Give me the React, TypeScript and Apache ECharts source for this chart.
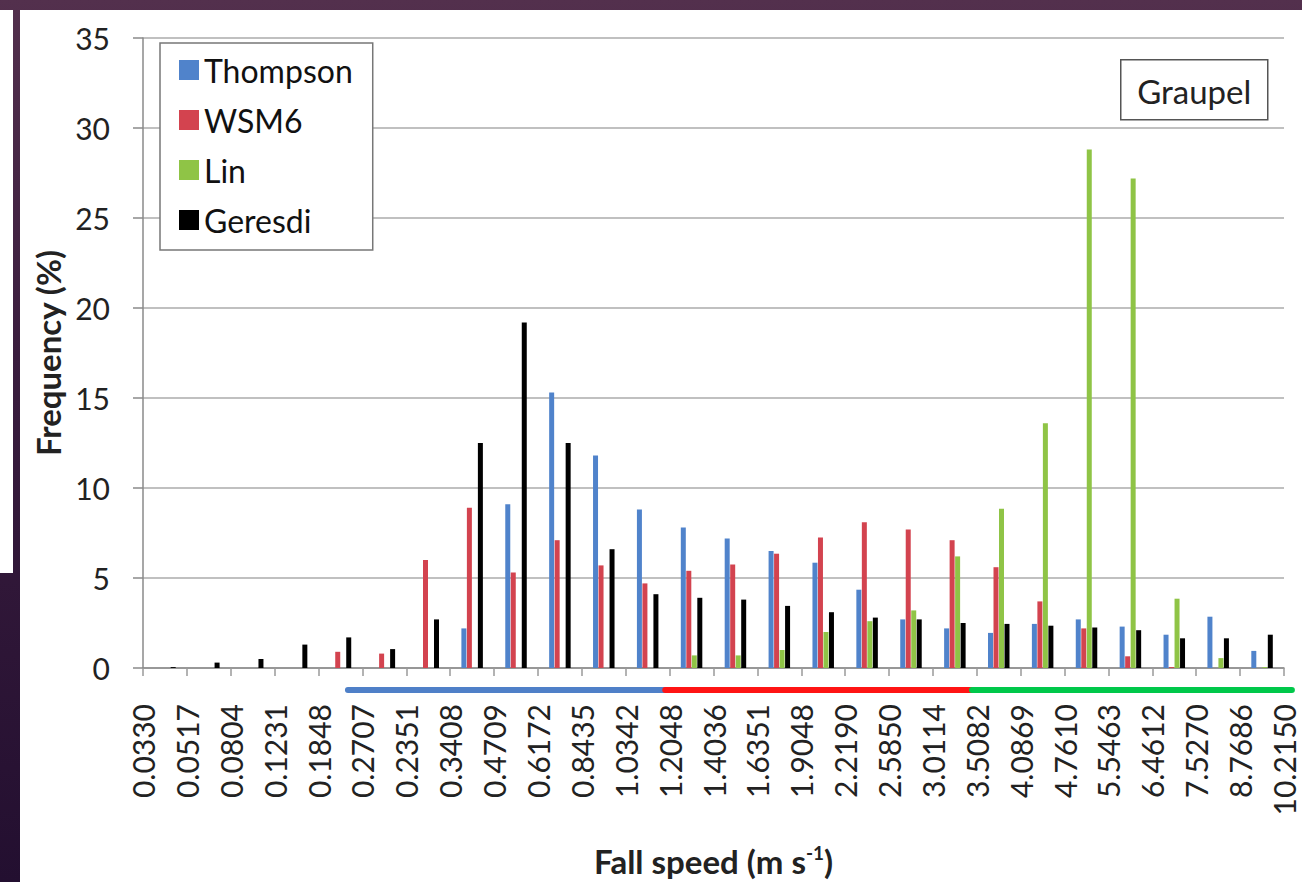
import React, { useEffect, useRef } from "react";
import * as echarts from "echarts";

// Bin boundary labels (fall speed, m/s) shown on the x axis ticks
const boundaryLabels = [
  "0.0330", "0.0517", "0.0804", "0.1231", "0.1848", "0.2707", "0.2351",
  "0.3408", "0.4709", "0.6172", "0.8435", "1.0342", "1.2048", "1.4036",
  "1.6351", "1.9048", "2.2190", "2.5850", "3.0114", "3.5082", "4.0869",
  "4.7610", "5.5463", "6.4612", "7.5270", "8.7686", "10.2150",
];

// 26 bins between consecutive boundaries
const binCategories = boundaryLabels.slice(0, -1).map((b, i) => `${b}-${boundaryLabels[i + 1]}`);

const thompson = [0, 0, 0, 0, 0, 0, 0, 2.2, 9.1, 15.3, 11.8, 8.8, 7.8, 7.2, 6.5, 5.85, 4.35, 2.7, 2.2, 1.95, 2.45, 2.7, 2.3, 1.85, 2.85, 0.95];
const wsm6 = [0, 0, 0, 0, 0.9, 0.8, 6.0, 8.9, 5.3, 7.1, 5.7, 4.7, 5.4, 5.75, 6.35, 7.25, 8.1, 7.7, 7.1, 5.6, 3.7, 2.2, 0.65, 0.05, 0, 0];
const lin = [0, 0, 0, 0, 0, 0, 0, 0, 0, 0, 0, 0, 0.7, 0.7, 1.0, 2.0, 2.6, 3.2, 6.2, 8.85, 13.6, 28.8, 27.2, 3.85, 0.55, 0.05];
const geresdi = [0.05, 0.3, 0.5, 1.3, 1.7, 1.05, 2.7, 12.5, 19.2, 12.5, 6.6, 4.1, 3.9, 3.8, 3.45, 3.1, 2.8, 2.7, 2.5, 2.45, 2.35, 2.25, 2.1, 1.65, 1.65, 1.85];

const seriesNames = ["Thompson", "WSM6", "Lin", "Geresdi"];
const seriesColors = ["#5083CB", "#D3434F", "#8FC446", "#000000"];

// Coloured regime strips under the axis (from/to in boundary-index units)
const strips = [
  { from: 4.67, to: 11.9, color: "#4F80C8" },
  { from: 11.9, to: 18.89, color: "#FF1414" },
  { from: 18.89, to: 26.18, color: "#00C84A" },
];

const FONT = "Lato";

export default function App() {
  const ref = useRef<HTMLDivElement>(null);

  useEffect(() => {
    if (!ref.current) return;
    const chart = echarts.init(ref.current, undefined, { renderer: "svg" });
    const data = [thompson, wsm6, lin, geresdi];

    const option: any = {
      animation: false,
      backgroundColor: "transparent",
      textStyle: { fontFamily: FONT },
      grid: { left: 143, right: 18, top: 38, bottom: 214, containLabel: false, outerBoundsMode: "none" },
      legend: {
        orient: "vertical",
        left: 160,
        top: 43,
        icon: "rect",
        itemWidth: 20,
        itemHeight: 20,
        itemGap: 18,
        itemTextGap: 11,
        padding: [11, 20, 14, 19],
        borderColor: "#777",
        borderWidth: 1.5,
        backgroundColor: "#fff",
        textStyle: { fontFamily: FONT, fontSize: 32, color: "#111", lineHeight: 32 },
        data: seriesNames,
      },
      xAxis: [
        {
          type: "category",
          data: binCategories,
          boundaryGap: true,
          axisLine: { show: true, lineStyle: { color: "#8a8a8a", width: 1.5 } },
          axisTick: { show: false },
          axisLabel: { show: false },
          splitLine: { show: false },
        },
        {
          type: "category",
          data: boundaryLabels,
          boundaryGap: false,
          position: "bottom",
          axisLine: { show: false },
          axisTick: { show: true, length: 8, lineStyle: { color: "#9a9a9a", width: 1.5 } },
          axisLabel: {
            interval: 0,
            rotate: 90,
            margin: 36,
            fontFamily: FONT,
            fontSize: 30,
            color: "#222",
          },
          splitLine: { show: false },
          name: "Fall speed (m s{sup|-1})",
          nameLocation: "middle",
          nameGap: 175,
          nameTextStyle: {
            fontFamily: FONT,
            fontSize: 33,
            fontWeight: "bold",
            color: "#222",
            rich: {
              sup: { fontFamily: FONT, fontSize: 19, fontWeight: "bold", color: "#222", padding: [0, 0, 16, 0] },
            },
          },
        },
      ],
      yAxis: {
        type: "value",
        min: 0,
        max: 35,
        interval: 5,
        axisLine: { show: true, lineStyle: { color: "#8a8a8a", width: 1.5 } },
        axisTick: { show: true, length: 10, lineStyle: { color: "#8a8a8a", width: 1.5 } },
        axisLabel: { fontFamily: FONT, fontSize: 30, color: "#222", margin: 33 },
        splitLine: { show: true, lineStyle: { color: "#ababab", width: 1.5 } },
        name: "Frequency (%)",
        nameLocation: "middle",
        nameRotate: 90,
        nameGap: 75,
        nameTextStyle: { fontFamily: FONT, fontSize: 33, fontWeight: "bold", color: "#222" },
      },
      series: seriesNames.map((name, i) => ({
        name,
        type: "bar",
        xAxisIndex: 0,
        data: data[i],
        barWidth: 5,
        barGap: "10%",
        itemStyle: { color: seriesColors[i] },
      })),
    };

    chart.setOption(option);

    const posAt = (f: number) => {
      const i0 = Math.max(0, Math.min(boundaryLabels.length - 2, Math.floor(f)));
      const p0 = chart.convertToPixel({ xAxisIndex: 1 }, i0) as number;
      const p1 = chart.convertToPixel({ xAxisIndex: 1 }, i0 + 1) as number;
      return p0 + (f - i0) * (p1 - p0);
    };
    const baseY = chart.convertToPixel({ yAxisIndex: 0 }, 0) as number;
    const stripY = baseY + 22;

    chart.setOption({
      graphic: [
        ...strips.map((s) => ({
          type: "line",
          z: 100,
          shape: { x1: posAt(s.from), y1: stripY, x2: posAt(s.to), y2: stripY },
          style: { stroke: s.color, lineWidth: 6, lineCap: "round" },
        })),
        {
          type: "group",
          z: 100,
          left: 1120,
          top: 59,
          children: [
            { type: "rect", shape: { x: 0, y: 0, width: 147, height: 60 }, style: { fill: "#fff", stroke: "#555", lineWidth: 1.5 } },
            {
              type: "text",
              x: 73.5,
              y: 31,
              style: { text: "Graupel", fontFamily: FONT, fontSize: 33, fill: "#222", align: "center", verticalAlign: "middle" },
            },
          ],
        },
      ],
    });

    return () => chart.dispose();
  }, []);

  return (
    <div
      style={{
        position: "fixed",
        left: 0,
        top: 0,
        width: 1302,
        height: 882,
        background: "linear-gradient(to bottom, #53304d 0%, #3a1d3e 40%, #230f30 100%)",
        overflow: "hidden",
      }}
    >
      <div style={{ position: "absolute", left: 0, top: 10, width: 13, height: 563, background: "#fff" }} />
      <div style={{ position: "absolute", left: 20, top: 10, width: 1282, height: 872, background: "#fff" }} />
      <div ref={ref} style={{ position: "absolute", left: 0, top: 0, width: 1302, height: 882 }} />
    </div>
  );
}
